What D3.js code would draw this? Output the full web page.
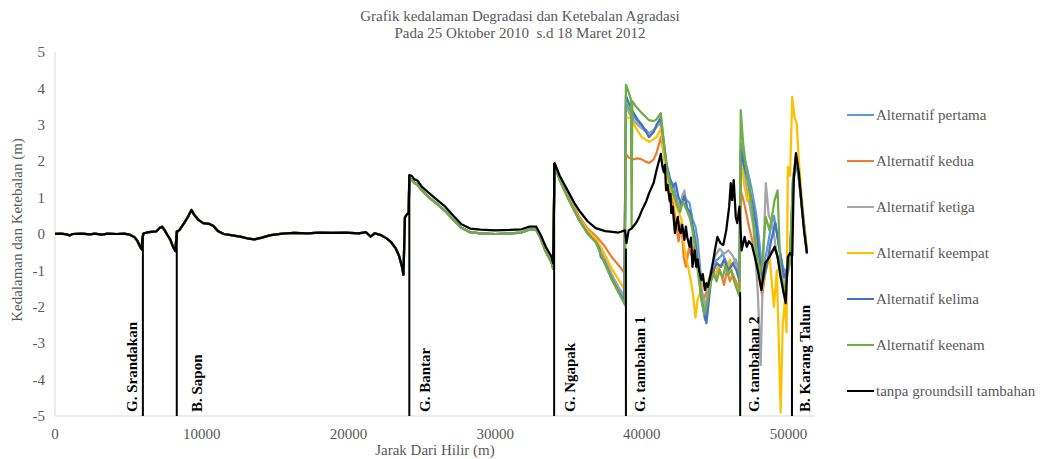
<!DOCTYPE html>
<html>
<head>
<meta charset="utf-8">
<script src="https://cdn.jsdelivr.net/npm/d3@7"></script>
<style>
  body { margin: 0; background: #fff; }
  text { font-family: "Liberation Serif", "Times New Roman", serif; }
</style>
</head>
<body>
<div id="container"></div>
<script>
// ---- data (jarak dari hilir in m, kedalaman/ketebalan in m) ----

// reach shared by every series, 0 .. G. Bantar
const hilir = [
  [0,0],[400,0.01],[800,-0.01],[1000,-0.04],[1200,0],[1800,0.01],[2400,-0.01],[2700,0.01],
  [3200,-0.02],[3600,0.01],[4200,0],[4700,0.01],[5100,-0.02],[5400,-0.08],[5600,-0.18],
  [5800,-0.35],[5900,-0.42],[5960,-0.1],[6050,0.02],[6400,0.05],[6900,0.07],[7150,0.17],
  [7300,0.2],[7450,0.12],[7650,-0.02],[7850,-0.15],[8050,-0.35],[8200,-0.47],[8300,0.05],
  [8500,0.12],[8800,0.3],[9100,0.5],[9300,0.66],[9500,0.52],[9800,0.38],[10100,0.3],
  [10500,0.28],[10800,0.22],[11100,0.08],[11500,0],[12100,-0.04],[12700,-0.08],[13200,-0.13],
  [13600,-0.15],[14100,-0.1],[14700,-0.03],[15500,0.01],[16300,0.03],[17200,0.02],[18000,0.04],
  [18900,0.03],[19800,0.04],[20700,0.02],[21200,0.05],[21500,-0.07],[21800,0.02],[22200,-0.03],
  [22600,-0.12],[22900,-0.22],[23200,-0.38],[23450,-0.6],[23650,-0.9],[23750,-1.12],
  [23850,0.45],[24000,0.55],[24100,0.55]
];

// G. Bantar .. G. Ngapak
const tengahTanpa = [
  [24150,1.62],[24300,1.6],[24500,1.5],[24700,1.47],[25000,1.3],[25500,1.12],[26000,0.95],
  [26600,0.75],[27200,0.48],[27700,0.27],[28300,0.15],[29000,0.12],[30000,0.1],[31000,0.11],
  [31800,0.13],[32300,0.2],[32800,0.2],[33100,-0.02],[33450,-0.35],[33850,-0.63],[33950,-0.8]
];
const tengahAlt = [
  [24150,1.52],[24300,1.5],[24500,1.4],[24700,1.36],[25000,1.2],[25500,1.0],[26000,0.84],
  [26600,0.63],[27200,0.37],[27700,0.17],[28300,0.05],[29000,0.02],[30000,0.0],[31000,0.02],
  [31800,0.04],[32300,0.12],[32800,0.12],[33100,-0.12],[33450,-0.48],[33850,-0.78],[33950,-0.95]
];

// G. Ngapak .. hulu
const huluTanpa = [
  [34050,1.95],[34200,1.8],[34400,1.6],[34600,1.45],[35000,1.15],[35400,0.85],[35700,0.66],
  [36300,0.35],[36850,0.16],[37500,0.08],[38000,0.06],[38400,0.04],[38850,0.1],[38950,-0.25],
  [39100,0.1],[39300,0.15],[39600,0.3],[39800,0.45],[40000,0.65],[40300,0.9],[40500,1.13],
  [40800,1.4],[41000,1.75],[41290,2.2],[41400,1.85],[41500,1.7],[41570,1.9],[41650,1.2],
  [41750,1.35],[41900,0.9],[41950,1.1],[42000,0.58],[42100,0.75],[42250,0.03],[42350,0.3],
  [42450,0.47],[42550,0.1],[42650,0.03],[42750,0.25],[42900,-0.16],[43000,0.2],[43100,-0.1],
  [43250,-0.35],[43350,-0.1],[43450,-0.9],[43600,-0.45],[43700,-0.9],[43800,-0.7],[43900,-1.0],
  [44050,-1.26],[44150,-1.1],[44300,-1.54],[44400,-1.35],[44500,-1.45],[44750,-1.0],[45000,-0.4],
  [45150,-0.08],[45350,-0.25],[45550,-0.3],[45750,0.1],[45950,0.75],[46060,1.4],[46150,0.93],
  [46260,1.48],[46400,0.47],[46500,0.3],[46650,0.75],[46800,-0.45],[47000,-0.08],[47150,-0.35],
  [47300,-0.2],[47500,-0.3],[47700,-0.63],[47900,-0.99],[48150,-1.54],[48400,-0.8],[48700,-0.63],
  [49050,-0.35],[49250,-0.63],[49450,-1.17],[49800,-1.9],[49950,-0.63],[50100,-0.52],[50250,-0.6],
  [50350,1.48],[50500,2.22],[50700,1.68],[50900,0.75],[51050,0.1],[51250,-0.52]
];
const huluPertama = [
  [34050,1.9],[34400,1.5],[35000,0.98],[35700,0.42],[36300,0.04],[36850,-0.2],[37400,-0.68],
  [37940,-1.18],[38400,-1.55],[38800,-1.8],[38913,3.6],[39100,3.45],[39400,3.25],[39700,3.1],
  [40000,2.94],[40300,2.85],[40480,2.77],[40800,2.85],[41000,2.94],[41290,3.13],[41500,2.4],
  [41700,1.75],[41900,1.5],[42150,1.35],[42400,0.9],[42600,0.75],[42800,1.1],[43000,0.95],
  [43250,0.85],[43450,0.4],[43650,0.2],[43800,-0.16],[44000,-1.07],[44150,-1.8],[44300,-2.35],
  [44450,-2.1],[44600,-1.5],[44800,-0.9],[45000,-0.75],[45300,-0.65],[45500,-0.55],[45800,-0.8],
  [46100,-0.9],[46400,-0.7],[46650,-1.1],[46740,2.5],[46900,2.2],[47150,1.84],[47500,1.2],
  [47800,0.5],[48000,-0.2],[48200,-1.0],[48500,-0.5],[48800,0.2],[49000,0.5],[49300,-0.2],
  [49600,-0.9],[49900,-1.1],[50100,-0.7],[50300,1.5],[50500,2.1],[50700,1.5],[50900,0.85],
  [51100,0.05],[51250,-0.5]
];
const huluKedua = [
  [34050,1.92],[34500,1.45],[35000,1.05],[35700,0.5],[36300,0.15],[36850,-0.05],[37400,-0.3],
  [37940,-0.63],[38400,-0.85],[38800,-1.07],[38913,2.2],[39100,2.1],[39400,2.05],[39700,2.08],
  [40000,2.05],[40300,1.98],[40500,1.95],[40800,2.05],[41000,2.22],[41290,2.66],[41500,2.2],
  [41700,1.6],[41900,1.2],[42100,0.9],[42300,0.4],[42500,-0.2],[42700,0.3],[42850,-0.63],
  [43000,-0.9],[43200,-0.4],[43400,-0.6],[43600,-0.3],[43800,-0.9],[44000,-1.5],[44200,-1.8],
  [44400,-1.6],[44600,-1.3],[44800,-0.9],[45000,-1.2],[45200,-0.9],[45400,-1.1],[45600,-1.4],
  [45800,-1.0],[46000,-1.3],[46200,-1.1],[46500,-1.4],[46650,-1.6],[46740,1.2],[47000,0.8],
  [47300,0.2],[47600,-0.3],[47900,-0.9],[48200,-1.7],[48500,-0.8],[48800,-0.5],[49100,-0.4],
  [49400,-0.9],[49700,-1.5],[49950,-0.8],[50100,-0.6],[50350,1.5],[50500,2.1],[50700,1.6],
  [50900,0.7],[51100,0.0],[51250,-0.5]
];
const huluKetiga = [
  [34050,1.9],[34400,1.5],[35000,0.99],[35700,0.43],[36300,0.06],[36850,-0.15],[37400,-0.6],
  [37940,-1.1],[38400,-1.45],[38800,-1.7],[38913,3.5],[39100,3.35],[39400,3.15],[39700,3.0],
  [40000,2.9],[40300,2.8],[40500,2.75],[40800,2.85],[41000,2.95],[41290,3.05],[41500,2.3],
  [41700,1.7],[42000,1.3],[42300,0.9],[42600,0.8],[42900,1.2],[43100,0.6],[43400,0.3],
  [43700,-0.2],[43900,-0.9],[44100,-1.6],[44300,-2.0],[44500,-1.6],[44700,-1.0],[45000,-0.6],
  [45300,-0.4],[45600,-0.55],[45900,-0.45],[46200,-0.6],[46500,-0.9],[46650,-1.2],[46740,2.3],
  [47000,1.6],[47300,0.9],[47600,0.2],[47900,-1.6],[48100,-3.6],[48250,-1.0],[48450,1.4],
  [48650,0.5],[48900,0.3],[49100,-0.3],[49400,-1.0],[49700,-1.4],[50000,-1.0],[50100,-0.8],
  [50350,1.6],[50500,2.1],[50700,1.5],[50900,0.8],[51100,0.0],[51250,-0.5]
];
const huluKeempat = [
  [34050,1.9],[34500,1.42],[35000,1.0],[35700,0.44],[36300,0.1],[36850,-0.12],[37400,-0.5],
  [37940,-0.95],[38400,-1.25],[38800,-1.5],[38913,3.2],[39250,3.2],[39600,2.9],[40000,2.66],
  [40480,2.53],[40800,2.6],[41000,2.66],[41290,2.9],[41500,2.2],[41700,1.5],[41900,1.2],
  [42150,1.0],[42400,0.7],[42700,0.4],[42900,-0.4],[43100,-0.8],[43300,-1.2],[43500,-1.7],
  [43650,-2.3],[43800,-1.8],[44000,-1.6],[44200,-1.35],[44400,-1.45],[44600,-1.2],[44800,-1.0],
  [45000,-1.1],[45200,-0.9],[45500,-0.8],[45800,-1.0],[46000,-0.7],[46200,-1.2],[46500,-1.5],
  [46650,-1.7],[46740,2.0],[47000,1.3],[47200,0.9],[47400,1.2],[47600,0.5],[47800,-0.2],
  [48000,-0.9],[48200,-1.5],[48400,-1.1],[48700,-0.6],[49000,-2.0],[49200,-1.0],[49460,-4.9],
  [49600,-2.5],[49750,-1.8],[49860,-2.7],[49950,1.84],[50100,1.6],[50250,3.77],[50400,3.2],
  [50550,3.05],[50700,2.0],[50900,1.0],[51050,0.3],[51150,0.0],[51250,-0.45]
];
const huluKelima = [
  [34050,1.9],[34400,1.48],[35000,0.96],[35700,0.4],[36300,0.02],[36850,-0.22],[37100,-0.4],
  [37200,-0.63],[37400,-0.72],[37940,-1.22],[38400,-1.58],[38800,-1.85],[38913,3.8],[39100,3.6],
  [39400,3.35],[39700,3.15],[40000,3.0],[40300,2.8],[40480,2.66],[40800,2.8],[41000,3.0],
  [41290,3.2],[41500,2.5],[41700,1.9],[41900,1.55],[42100,1.3],[42300,1.4],[42500,1.0],
  [42700,0.8],[42900,1.05],[43100,0.7],[43300,0.6],[43500,0.1],[43700,-0.4],[43900,-1.2],
  [44100,-1.9],[44250,-2.2],[44400,-2.45],[44550,-1.9],[44700,-1.3],[44900,-1.0],[45100,-0.8],
  [45400,-0.9],[45600,-0.7],[45900,-1.0],[46200,-0.8],[46450,-1.0],[46650,-1.3],[46740,2.3],
  [46950,1.9],[47200,1.5],[47500,0.9],[47800,0.2],[48000,-0.6],[48250,-1.3],[48500,-0.9],
  [48800,-0.2],[49100,0.3],[49400,-0.5],[49700,-1.2],[49950,-0.9],[50100,-0.6],[50300,1.4],
  [50500,2.0],[50700,1.55],[50900,0.8],[51100,0.0],[51250,-0.55]
];
const huluKeenam = [
  [34050,1.88],[34500,1.38],[35000,0.95],[35700,0.4],[36300,0.0],[36850,-0.22],[37400,-0.75],
  [37940,-1.25],[38400,-1.6],[38850,-1.95],[38913,4.1],[39100,3.9],[39250,3.7],[39300,0.2],
  [39350,3.65],[39600,3.5],[40000,3.32],[40480,3.13],[40800,3.1],[41000,3.15],[41290,3.32],
  [41500,2.5],[41700,1.8],[41900,1.4],[42150,1.1],[42400,0.8],[42600,0.6],[42800,0.9],
  [43000,0.7],[43250,0.5],[43450,0.1],[43700,-0.6],[43900,-1.3],[44100,-1.9],[44250,-2.2],
  [44450,-1.9],[44700,-1.3],[44900,-1.1],[45100,-1.3],[45300,-1.0],[45500,-1.2],[45700,-0.9],
  [45900,-1.1],[46100,-1.0],[46300,-1.3],[46500,-1.55],[46650,-1.7],[46740,3.4],[46900,2.5],
  [47150,1.68],[47500,0.75],[47800,-0.45],[48000,-1.17],[48200,-0.8],[48440,0.47],[48700,0.1],
  [49050,0.93],[49250,1.2],[49450,-1.07],[49650,-1.6],[49800,-1.4],[50000,-0.9],[50100,-0.7],
  [50300,1.5],[50500,2.1],[50700,1.6],[50900,0.8],[51100,0.1],[51250,-0.5]
];

const seriesNames = ["Alternatif pertama", "Alternatif kedua", "Alternatif ketiga",
  "Alternatif keempat", "Alternatif kelima", "Alternatif keenam", "tanpa groundsill tambahan"];
const seriesColors = ["#5b9bd5", "#ed7d31", "#a5a5a5", "#ffc000", "#4472c4", "#70ad47", "#000000"];
const seriesData = [
  hilir.concat(tengahAlt, huluPertama),
  hilir.concat(tengahAlt, huluKedua),
  hilir.concat(tengahAlt, huluKetiga),
  hilir.concat(tengahAlt, huluKeempat),
  hilir.concat(tengahAlt, huluKelima),
  hilir.concat(tengahAlt, huluKeenam),
  hilir.concat(tengahTanpa, huluTanpa)
];

// groundsill / bendung positions
const gsNames = ["G. Srandakan", "B. Sapon", "G. Bantar", "G. Ngapak", "G. tambahan 1", "G. tambahan 2", "B. Karang Talun"];
const gsJarak = [5990, 8300, 24150, 34020, 38913, 46700, 50230];
const gsPuncak = [0.02, 0.1, 1.62, 1.95, -0.4, -1.6, -0.6];

const xTicks = [0, 10000, 20000, 30000, 40000, 50000];
const yTicks = [-5, -4, -3, -2, -1, 0, 1, 2, 3, 4, 5];

// ---- layout ----
const W = 1041, H = 459;
const plot = { left: 55, right: 815, top: 52, bottom: 416 };
const gsLabelDx = [-11, 20, 15, 16, 14, 14, 13];
const grey = "#595959";

const svg = d3.select("#container").append("svg")
    .attr("width", W)
    .attr("height", H);

const x = d3.scaleLinear().domain([0, 51800]).range([plot.left, plot.right]);
const y = d3.scaleLinear().domain([-5, 5]).range([plot.bottom, plot.top]);

// axes lines
svg.append("line")
    .attr("x1", plot.left).attr("x2", plot.left)
    .attr("y1", plot.top).attr("y2", plot.bottom)
    .attr("stroke", "#d9d9d9");
svg.append("line")
    .attr("x1", plot.left).attr("x2", plot.right)
    .attr("y1", plot.bottom).attr("y2", plot.bottom)
    .attr("stroke", "#d9d9d9");

svg.selectAll(".ytick")
    .data(yTicks)
  .enter().append("text")
    .attr("x", 45)
    .attr("y", d => y(d))
    .attr("dy", "0.35em")
    .attr("text-anchor", "end")
    .attr("font-size", 15)
    .attr("fill", grey)
    .text(d => d);

svg.selectAll(".xtick")
    .data(xTicks)
  .enter().append("text")
    .attr("x", d => x(d))
    .attr("y", 439)
    .attr("text-anchor", "middle")
    .attr("font-size", 15)
    .attr("fill", grey)
    .text(d => d);

// titles
svg.append("text")
    .attr("x", 520).attr("y", 21)
    .attr("text-anchor", "middle")
    .attr("font-size", 15)
    .attr("fill", grey)
    .text("Grafik kedalaman Degradasi dan Ketebalan Agradasi");
svg.append("text")
    .attr("x", 520).attr("y", 38)
    .attr("text-anchor", "middle")
    .attr("font-size", 15)
    .attr("fill", grey)
    .attr("xml:space", "preserve")
    .text("Pada 25 Oktober 2010  s.d 18 Maret 2012");

svg.append("text")
    .attr("transform", "translate(22,230) rotate(-90)")
    .attr("text-anchor", "middle")
    .attr("font-size", 15)
    .attr("fill", grey)
    .text("Kedalaman dan Ketebalan (m)");

svg.append("text")
    .attr("x", 435).attr("y", 455)
    .attr("text-anchor", "middle")
    .attr("font-size", 15)
    .attr("fill", grey)
    .text("Jarak Dari Hilir (m)");

// series
const line = d3.line()
    .x(d => x(d[0]))
    .y(d => y(d[1]));

svg.append("defs").append("clipPath")
    .attr("id", "clip")
  .append("rect")
    .attr("x", plot.left).attr("y", plot.top - 2)
    .attr("width", plot.right - plot.left)
    .attr("height", plot.bottom - plot.top + 2);

const g = svg.append("g").attr("clip-path", "url(#clip)");

seriesData.forEach((data, i) => {
    g.append("path")
        .datum(data)
        .attr("d", line)
        .attr("fill", "none")
        .attr("stroke", seriesColors[i])
        .attr("stroke-width", 2.25)
        .attr("stroke-linejoin", "round");
});

// groundsill markers and labels
gsNames.forEach((name, i) => {
    svg.append("line")
        .attr("x1", x(gsJarak[i])).attr("x2", x(gsJarak[i]))
        .attr("y1", y(-5)).attr("y2", y(gsPuncak[i]))
        .attr("stroke", "#000")
        .attr("stroke-width", 2);

    svg.append("text")
        .attr("transform", `translate(${x(gsJarak[i]) + gsLabelDx[i]},412) rotate(-90)`)
        .attr("dy", "0.35em")
        .attr("font-size", 15)
        .attr("font-weight", "bold")
        .attr("fill", "#000")
        .text(name);
});

// legend
const legend = svg.append("g");
seriesNames.forEach((name, i) => {
    const ly = 115 + i * 46;
    legend.append("line")
        .attr("x1", 847).attr("x2", 874)
        .attr("y1", ly).attr("y2", ly)
        .attr("stroke", seriesColors[i])
        .attr("stroke-width", 2);
    legend.append("text")
        .attr("x", 876).attr("y", ly)
        .attr("dy", "0.35em")
        .attr("font-size", 15)
        .attr("fill", grey)
        .text(name);
});
</script>
</body>
</html>
